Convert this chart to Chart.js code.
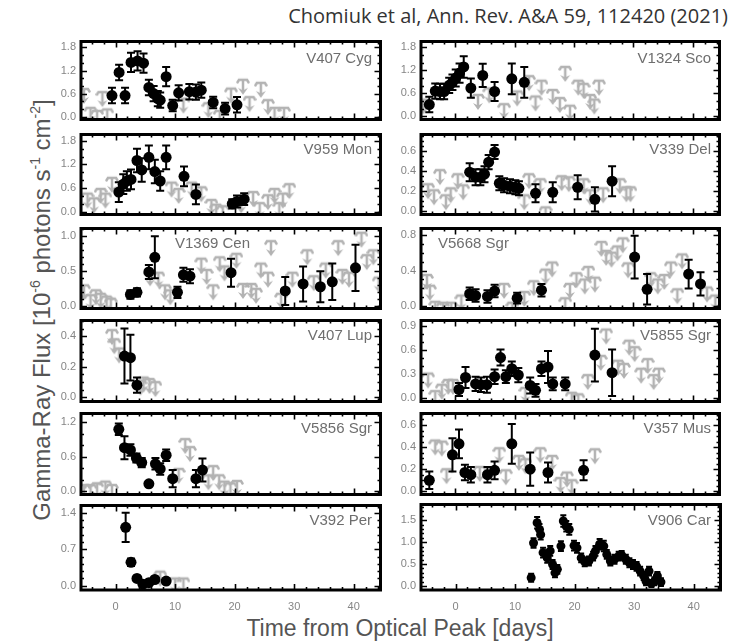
<!DOCTYPE html>
<html>
<head>
<meta charset="utf-8">
<title>Gamma-ray light curves of novae</title>
<script src="https://cdn.jsdelivr.net/npm/chart.js@4.4.1/dist/chart.umd.min.js"></script>
<style>
  body { margin: 0; background: #fff; }
  #page { position: relative; width: 734px; height: 643px; overflow: hidden; font-family: "Liberation Sans", Arial, sans-serif; }
  canvas.panel { position: absolute; }
  .name { position: absolute; color: #6e6e6e; font-size: 15px; line-height: 18px; white-space: nowrap; }
  #credit { position: absolute; right: 6px; top: 3px; font-family: "Open Sans", sans-serif; font-size: 20px; line-height: 26px; color: #333; white-space: nowrap; }
  #ytitle { position: absolute; left: -208px; top: 296px; width: 500px; text-align: center; font-size: 24px; line-height: 28px; color: #555; transform: rotate(-90deg); white-space: nowrap; }
  #xtitle { position: absolute; left: 150px; top: 614px; width: 500px; text-align: center; font-size: 23px; line-height: 28px; color: #555; white-space: nowrap; }
  sup { font-size: 14px; vertical-align: 10px; line-height: 0; }
</style>
</head>
<body>
<div id="page">
  <div id="credit">Chomiuk et al, Ann. Rev. A&amp;A 59, 112420 (2021)</div>
  <div id="ytitle">Gamma-Ray Flux [10<sup>-6</sup> photons s<sup>-1</sup> cm<sup>-2</sup>]</div>
  <div id="xtitle">Time from Optical Peak [days]</div>
</div>
<script>
// detections are [day, flux, error], upper limits are [day, flux]
const v407CygDet = [[-0.6,0.55,0.2],[0.6,1.15,0.2],[1.6,0.55,0.2],[2.6,1.41,0.25],[3.7,1.45,0.25],[4.7,1.39,0.25],[5.6,0.76,0.2],[6.4,0.6,0.2],[7.1,0.47,0.2],[7.5,0.43,0.2],[8.5,1.04,0.25],[9.6,0.29,0.15],[10.6,0.62,0.2],[12.4,0.65,0.2],[13.5,0.64,0.2],[14.4,0.69,0.2],[16.4,0.37,0.15],[18.4,0.21,0.15],[20.4,0.31,0.2]];
const v407CygLim = [[-5.3,0.72],[-4.2,0.23],[-3.1,0.15],[-2.2,0.64],[-1.4,0.19],[11.4,0.47],[15.6,0.35],[17.5,0.15],[19.4,0.73],[21.4,0.96],[22.5,0.51],[24.4,0.88],[25.6,0.43],[26.7,0.23],[28.3,0.23]];

const v1324ScoDet = [[-4.4,0.31,0.2],[-3.4,0.66,0.2],[-2.6,0.65,0.2],[-1.9,0.65,0.2],[-1.05,0.81,0.2],[-0.5,0.89,0.2],[0.05,1.0,0.22],[0.7,1.13,0.25],[1.4,1.29,0.28],[2.6,0.74,0.25],[4.6,1.07,0.3],[6.6,0.65,0.25],[9.5,0.98,0.4],[11.6,0.89,0.4]];
const v1324ScoLim = [[-5.4,0.44],[3.8,0.56],[5.7,0.73],[8.2,0.32],[10.4,0.65],[12.4,1.05],[13.5,0.52],[14.5,0.93],[16.4,0.69],[17.6,0.48],[18.5,1.29],[19.3,0.28],[20.7,0.93],[21.6,0.85],[22.7,0.56],[23.4,0.44],[24.2,0.93]];

const v959MonDet = [[0.55,0.5,0.25],[1.3,0.7,0.25],[1.9,0.78,0.25],[2.6,0.82,0.25],[3.6,1.3,0.3],[4.4,1.06,0.3],[5.6,1.38,0.3],[6.6,1.02,0.3],[7.5,0.78,0.25],[8.5,1.38,0.3],[11.5,0.9,0.25],[13.5,0.44,0.25],[19.6,0.2,0.12],[20.4,0.26,0.15],[21.6,0.32,0.15]];
const v959MonLim = [[-4.7,0.46],[-3.6,0.34],[-2.5,0.58],[-1.7,0.46],[-0.6,0.86],[9.4,0.74],[10.6,0.58],[12.8,0.74],[14.4,0.62],[16.1,0.3],[16.9,0.18],[18,0.14],[21.1,0.34],[23.1,0.5],[24.2,0.22],[25.6,0.42],[26.7,0.58],[27.5,0.22],[28.1,0.46],[29.2,0.7]];

const v339DelDet = [[2.4,0.39,0.09],[3.4,0.34,0.08],[4.2,0.34,0.08],[4.9,0.37,0.08],[5.6,0.49,0.07],[6.6,0.59,0.07],[7.4,0.28,0.07],[8.2,0.26,0.07],[9.2,0.25,0.07],[10.1,0.24,0.07],[10.7,0.23,0.07],[13.5,0.18,0.09],[16.4,0.19,0.1],[20.6,0.24,0.12],[23.5,0.12,0.12],[26.4,0.3,0.15]];
const v339DelLim = [[-4.6,0.27],[-3.6,0.21],[-2.6,0.41],[-1.6,0.16],[-0.8,0.23],[0.4,0.37],[1.3,0.26],[11.6,0.16],[12.4,0.37],[14.3,0.32],[15.2,0.04],[17.9,0.35],[19.1,0.34],[21.6,0.32],[22.7,0.21],[24.9,0.23],[27.7,0.32],[28.8,0.24],[29.5,0.24]];

const v1369CenDet = [[2.5,0.17,0.06],[3.6,0.2,0.06],[5.6,0.49,0.1],[6.6,0.7,0.3],[10.4,0.2,0.08],[11.4,0.45,0.1],[12.5,0.43,0.1],[19.4,0.48,0.2],[28.5,0.22,0.2],[31.5,0.32,0.25],[34.4,0.28,0.22],[36.4,0.35,0.26],[40.3,0.55,0.33]];
const v1369CenLim = [[-5.3,0.3],[-4.2,0.16],[-3.3,0.23],[-2.5,0.18],[-1.5,0.14],[-0.8,0.11],[5.8,0.5],[7.2,0.48],[8.3,0.3],[9.2,0.23],[14.4,0.68],[15.3,0.52],[16.4,0.3],[17.5,0.7],[18.3,0.57],[20.3,0.75],[21.4,0.32],[22.8,0.32],[23.6,0.25],[24.4,0.61],[25.6,0.48],[26.1,0.93],[27.8,0.18],[29.7,0.48],[32.2,0.8],[33.3,0.43],[35.3,0.61],[37.4,0.93],[38.1,0.52],[39.2,0.48],[41.3,1.05],[42.2,0.73],[43.3,0.8],[44.2,0.41]];

const v5668SgrDet = [[2.4,0.14,0.07],[3.4,0.12,0.07],[5.4,0.11,0.07],[6.6,0.17,0.07],[10.4,0.09,0.06],[14.5,0.18,0.07],[30.2,0.55,0.24],[32.3,0.19,0.17],[39.3,0.36,0.16],[41.3,0.25,0.13]];
const v5668SgrLim = [[-4.8,0.35],[-4.3,0.23],[-3.4,0.05],[-2.1,0.04],[-0.7,0.04],[1,0.12],[8.2,0.25],[9.6,0.04],[11.6,0.16],[13.2,0.28],[15.2,0.41],[16.3,0.49],[18.5,0.09],[19.3,0.25],[20.4,0.37],[21.8,0.3],[22.4,0.44],[23.5,0.32],[24.6,0.72],[25.4,0.62],[26.3,0.6],[27.3,0.67],[28.2,0.76],[29.1,0.48],[32.9,0.37],[34.1,0.3],[35.2,0.35],[36.3,0.49],[37.4,0.19],[38.2,0.58],[42.4,0.21],[43.8,0.12]];

const v407LupDet = [[1.5,0.27,0.18],[2.5,0.26,0.15],[3.6,0.08,0.05]];
const v407LupLim = [[-0.6,0.44],[-0.2,0.38],[0.6,0.32],[4.2,0.11],[4.7,0.13],[5.7,0.12],[6.7,0.1]];

const v5855SgrDet = [[0.6,0.1,0.08],[1.7,0.25,0.13],[3.4,0.17,0.09],[4.3,0.16,0.09],[5.3,0.16,0.1],[6.6,0.26,0.09],[7.6,0.5,0.1],[8.5,0.26,0.08],[9.5,0.36,0.09],[10.6,0.28,0.09],[12.6,0.15,0.1],[13.5,0.09,0.08],[14.5,0.36,0.09],[15.6,0.38,0.2],[16.4,0.17,0.08],[18.5,0.17,0.08],[23.5,0.53,0.33],[26.4,0.31,0.29]];
const v5855SgrLim = [[-4.6,0.3],[-3.4,0.08],[-2.3,0.16],[-1.2,0.22],[-0.4,0.22],[11.8,0.12],[19.6,0.06],[20.7,0.04],[22.3,0.28],[24.5,0.52],[25.4,0.85],[27.4,0.46],[28.4,0.42],[29.3,0.71],[30.2,0.63],[31.3,0.36],[32.4,0.48],[33.4,0.28],[34.3,0.36]];

const v5856SgrDet = [[0.55,1.08,0.1],[1.5,0.76,0.2],[2.5,0.72,0.1],[3.5,0.58,0.08],[4.4,0.5,0.08],[5.6,0.13,0.03],[6.7,0.48,0.1],[7.5,0.39,0.1],[8.5,0.63,0.1],[9.6,0.22,0.15],[13.5,0.22,0.15],[14.6,0.37,0.2]];
const v5856SgrLim = [[-5.3,0.11],[-4.2,0.11],[-3.1,0.14],[-1.7,0.17],[-0.6,0.11],[10.6,0.39],[11.7,0.91],[12.5,0.77],[15.6,0.28],[16.4,0.44],[17.4,0.28],[18.3,0.17],[19.3,0.14],[20.4,0.18]];

const v357MusDet = [[-4.4,0.1,0.08],[-0.5,0.33,0.15],[0.6,0.43,0.13],[1.6,0.17,0.07],[2.6,0.15,0.07],[5.4,0.15,0.07],[6.6,0.19,0.08],[9.5,0.43,0.18],[12.6,0.2,0.15],[15.6,0.17,0.09],[21.6,0.19,0.09]];
const v357MusLim = [[-3.4,0.46],[-2.3,0.45],[-1.5,0.2],[4.1,0.22],[7.4,0.39],[8.5,0.19],[10.7,0.32],[11.8,0.29],[14.3,0.39],[16.3,0.32],[17.7,0.12],[18.8,0.17],[19.6,0.1],[23.5,0.38]];

const v392PerDet = [[1.7,1.12,0.28],[2.6,0.45,0.07],[3.6,0.14,0.04],[4.6,0.03,0.03],[5.6,0.06,0.03],[6.6,0.12,0.04],[8.5,0.09,0.04]];
const v392PerLim = [[7.5,0.27],[10,0.14],[11.4,0.14]];

const v906CarDet = [[12.7,0.19,0.09],[13.1,0.98,0.11],[13.7,1.44,0.13],[14.1,1.29,0.12],[14.3,1.17,0.11],[14.7,0.76,0.11],[15.4,0.64,0.11],[15.9,0.8,0.11],[16.3,0.49,0.1],[16.7,0.3,0.1],[17.1,0.38,0.1],[17.7,0.91,0.11],[18.1,1.48,0.13],[18.6,1.36,0.12],[19.1,1.29,0.12],[19.9,0.92,0.11],[20.4,0.87,0.11],[21.1,0.64,0.1],[21.7,0.55,0.1],[22.4,0.57,0.1],[23.1,0.68,0.1],[23.5,0.8,0.11],[24.2,0.95,0.12],[24.9,0.91,0.12],[25.4,0.72,0.1],[26,0.57,0.1],[26.7,0.61,0.1],[27.4,0.68,0.1],[27.9,0.7,0.1],[28.6,0.61,0.1],[29.2,0.53,0.1],[29.8,0.49,0.1],[30.4,0.45,0.1],[31,0.34,0.1],[31.6,0.23,0.09],[32,0.11,0.09],[32.5,0.34,0.1],[32.9,0.06,0.08],[33.4,0.11,0.09],[33.9,0.23,0.09],[34.5,0.09,0.09]];
const v906CarLim = [];

// tick labels
const dayTicks = [0, 10, 20, 30, 40];
const ticks18 = [0, 0.6, 1.2, 1.8];
const ticks06 = [0, 0.2, 0.4, 0.6];
const ticks10 = [0, 0.5, 1.0];
const ticks08 = [0, 0.4, 0.8];
const ticks04 = [0, 0.2, 0.4];
const ticks09 = [0, 0.3, 0.6, 0.9];
const ticks12 = [0, 0.6, 1.2];
const ticks14 = [0, 0.7, 1.4];
const ticks15 = [0, 0.5, 1.0, 1.5];

const panels = [
  { name: 'V407 Cyg',   col: 0, row: 0, det: v407CygDet,  lim: v407CygLim,  ticks: ticks18, min: -0.073, max: 1.955, minor: 0.2 },
  { name: 'V1324 Sco',  col: 1, row: 0, det: v1324ScoDet, lim: v1324ScoLim, ticks: ticks18, min: -0.08,  max: 1.953, minor: 0.2 },
  { name: 'V959 Mon',   col: 0, row: 1, det: v959MonDet,  lim: v959MonLim,  ticks: ticks18, min: -0.07,  max: 1.96,  minor: 0.2 },
  { name: 'V339 Del',   col: 1, row: 1, det: v339DelDet,  lim: v339DelLim,  ticks: ticks06, min: -0.031, max: 0.765, minor: 0.05 },
  { name: 'V1369 Cen',  col: 0, row: 2, det: v1369CenDet, lim: v1369CenLim, ticks: ticks10, min: -0.03,  max: 1.11,  minor: 0.1, nameLeft: 94 },
  { name: 'V5668 Sgr',  col: 1, row: 2, det: v5668SgrDet, lim: v5668SgrLim, ticks: ticks08, min: -0.025, max: 0.87,  minor: 0.1, nameLeft: 17 },
  { name: 'V407 Lup',   col: 0, row: 3, det: v407LupDet,  lim: v407LupLim,  ticks: ticks04, min: -0.027, max: 0.503, minor: 0.05 },
  { name: 'V5855 Sgr',  col: 1, row: 3, det: v5855SgrDet, lim: v5855SgrLim, ticks: ticks09, min: -0.05,  max: 0.963, minor: 0.1 },
  { name: 'V5856 Sgr',  col: 0, row: 4, det: v5856SgrDet, lim: v5856SgrLim, ticks: ticks12, min: -0.055, max: 1.355, minor: 0.2 },
  { name: 'V357 Mus',   col: 1, row: 4, det: v357MusDet,  lim: v357MusLim,  ticks: ticks06, min: -0.029, max: 0.704, minor: 0.05 },
  { name: 'V392 Per',   col: 0, row: 5, det: v392PerDet,  lim: v392PerLim,  ticks: ticks14, min: -0.081, max: 1.537, minor: 0.14 },
  { name: 'V906 Car',   col: 1, row: 5, det: v906CarDet,  lim: v906CarLim,  ticks: ticks15, min: -0.09,  max: 1.856, minor: 0.1, small: true }
];

// plot-area frame positions on the page
const colLeft = [81, 421];
const colRight = [383, 722];
const rowTop = [39, 132, 226, 318, 411, 503];
const rowBottom = [122, 217, 311, 404, 497, 590];
const AXIS_W = 40;
const PAD = 3;
const X_AXIS_H = 26;
const LIMIT_GREY = '#b3b3b3';

// grey upper-limit glyph: bar at the value, stem and arrowhead below it
function makeLimitMarker() {
  const c = document.createElement('canvas');
  c.width = 14; c.height = 36;
  const g = c.getContext('2d');
  g.strokeStyle = LIMIT_GREY;
  g.fillStyle = LIMIT_GREY;
  g.lineWidth = 2.5;
  g.lineCap = 'round';
  g.beginPath();
  g.moveTo(1.5, 20.5); g.lineTo(3, 18); g.lineTo(11, 18); g.lineTo(12.5, 20.5);
  g.moveTo(7, 18); g.lineTo(7, 28);
  g.stroke();
  g.beginPath();
  g.moveTo(2, 26); g.lineTo(7, 33); g.lineTo(12, 26); g.lineTo(7, 28.5);
  g.closePath();
  g.fill();
  return c;
}
const limitMarker = makeLimitMarker();

// error bars under the detections, then a heavy box with inward ticks on all four sides
function makePanelDecor(majors, minor, cap) {
  return {
    id: 'panelDecor',
    beforeDatasetDraw(chart, args) {
      const ds = chart.data.datasets[args.index];
      if (!ds.errors) return;
      const { ctx, chartArea: a, scales: { x, y } } = chart;
      ctx.save();
      ctx.beginPath();
      ctx.rect(a.left, a.top, a.width, a.height);
      ctx.clip();
      ctx.strokeStyle = '#000';
      ctx.lineWidth = 2;
      ds.data.forEach((pt, i) => {
        const e = ds.errors[i];
        const px = x.getPixelForValue(pt.x);
        const top = y.getPixelForValue(pt.y + e);
        const bot = y.getPixelForValue(pt.y - e);
        ctx.beginPath();
        ctx.moveTo(px, top); ctx.lineTo(px, bot);
        ctx.moveTo(px - cap, top); ctx.lineTo(px + cap, top);
        ctx.moveTo(px - cap, bot); ctx.lineTo(px + cap, bot);
        ctx.stroke();
      });
      ctx.restore();
    },
    afterDatasetsDraw(chart) {
      const { ctx, chartArea: a } = chart;
      const x = chart.scales.x;
      const y = chart.scales.y;
      const xPix = d => a.left + (d - x.min) / (x.max - x.min) * a.width;
      ctx.save();
      ctx.strokeStyle = '#000';
      ctx.lineWidth = 1.6;
      ctx.beginPath();
      for (let d = -4; d <= 44; d += 2) {
        const px = Math.round(xPix(d)) + 0.5;
        const len = d % 10 === 0 ? 6 : 3;
        ctx.moveTo(px, a.bottom); ctx.lineTo(px, a.bottom - len);
        ctx.moveTo(px, a.top); ctx.lineTo(px, a.top + len);
      }
      const k0 = Math.ceil(y.min / minor - 1e-6);
      const k1 = Math.floor(y.max / minor + 1e-6);
      for (let k = k0; k <= k1; k++) {
        const v = k * minor;
        const major = majors.some(t => Math.abs(t - v) < 1e-6);
        const py = Math.round(y.getPixelForValue(v)) + 0.5;
        const len = major ? 6 : 3;
        ctx.moveTo(a.left, py); ctx.lineTo(a.left + len, py);
        ctx.moveTo(a.right, py); ctx.lineTo(a.right - len, py);
      }
      ctx.stroke();
      ctx.lineWidth = 3;
      ctx.strokeRect(a.left, a.top, a.right - a.left, a.bottom - a.top);
      ctx.restore();
    }
  };
}

const page = document.getElementById('page');

panels.forEach(p => {
  const bottomRow = p.row === 5;
  const plotW = colRight[p.col] - colLeft[p.col];
  const plotH = rowBottom[p.row] - rowTop[p.row];
  const canvas = document.createElement('canvas');
  canvas.className = 'panel';
  canvas.width = AXIS_W + plotW + PAD;
  canvas.height = PAD + plotH + (bottomRow ? X_AXIS_H : PAD);
  canvas.style.left = (colLeft[p.col] - AXIS_W) + 'px';
  canvas.style.top = (rowTop[p.row] - PAD) + 'px';
  page.appendChild(canvas);

  new Chart(canvas.getContext('2d'), {
    type: 'scatter',
    data: {
      datasets: [
        {
          data: p.lim.map(([d, f]) => ({ x: d, y: f })),
          pointStyle: limitMarker,
          order: 2
        },
        {
          data: p.det.map(([d, f]) => ({ x: d, y: f })),
          errors: p.det.map(r => r[2]),
          pointStyle: 'circle',
          pointRadius: p.small ? 4.5 : 5.5,
          pointBackgroundColor: '#000',
          pointBorderWidth: 0,
          order: 1
        }
      ]
    },
    options: {
      responsive: false,
      animation: false,
      devicePixelRatio: 1,
      layout: { padding: { left: 0, right: PAD, top: PAD, bottom: bottomRow ? 0 : PAD } },
      plugins: {
        legend: { display: false },
        tooltip: { enabled: false }
      },
      scales: {
        x: {
          type: 'linear',
          min: -5.8,
          max: 44.5,
          display: bottomRow,
          grid: { display: false, drawTicks: false },
          border: { display: false },
          afterBuildTicks: s => { s.ticks = dayTicks.map(v => ({ value: v })); },
          afterFit: s => {
            s.height = bottomRow ? X_AXIS_H : 0;
            s.paddingLeft = 0;
            s.paddingRight = 0;
          },
          ticks: {
            autoSkip: false,
            maxRotation: 0,
            padding: 10,
            color: '#858585',
            font: { family: '"Liberation Sans", Arial, sans-serif', size: 11 }
          }
        },
        y: {
          type: 'linear',
          min: p.min,
          max: p.max,
          grid: { display: false, drawTicks: false },
          border: { display: false },
          afterBuildTicks: s => { s.ticks = p.ticks.map(v => ({ value: v })); },
          afterFit: s => {
            s.width = AXIS_W;
            s.paddingTop = 0;
            s.paddingBottom = 0;
          },
          ticks: {
            autoSkip: false,
            padding: 5,
            color: '#858585',
            font: { family: '"Liberation Sans", Arial, sans-serif', size: 11 },
            callback: v => v.toFixed(1)
          }
        }
      }
    },
    plugins: [makePanelDecor(p.ticks, p.minor, p.small ? 3 : 4)]
  });

  const label = document.createElement('div');
  label.className = 'name';
  label.textContent = p.name;
  label.style.top = (rowTop[p.row] + (p.row === 0 ? 19 : 17) - 9) + 'px';
  if (p.nameLeft !== undefined) {
    label.style.left = (colLeft[p.col] + p.nameLeft) + 'px';
  } else {
    label.style.right = (734 - colRight[p.col] + 11) + 'px';
  }
  page.appendChild(label);
});
</script>
</body>
</html>
